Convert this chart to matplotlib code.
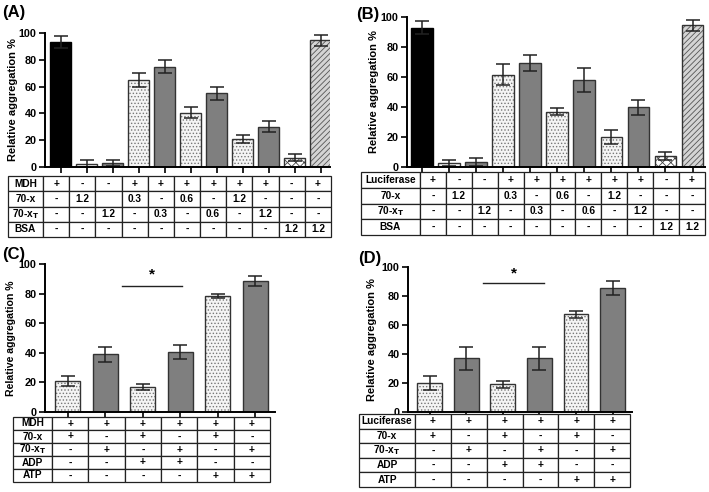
import matplotlib.pyplot as plt
import numpy as np

plt.rcParams['font.family'] = ['Liberation Sans', 'DejaVu Sans']
plt.rcParams['font.weight'] = 'bold'
plt.rcParams['mathtext.default'] = 'bf'
plt.rcParams['hatch.linewidth'] = 0.6

# ---- data ----
a_vals = [93, 2.5, 3, 65, 75, 40.5, 55, 21, 30, 7, 94.5]
a_errs = [4.5, 2.5, 2.5, 5, 5, 4, 5, 3, 4, 2.5, 4]
b_vals = [93, 3, 3.5, 61.5, 69.5, 37, 58, 20, 40, 7.5, 94.5]
b_errs = [4.5, 2, 2.5, 7, 5.5, 2.5, 8, 4.5, 5, 2.5, 3.5]
c_vals = [21, 39, 17, 40.5, 78.5, 88.5]
c_errs = [3.5, 5, 2, 5, 1.5, 3.5]
d_vals = [20, 37, 19, 37, 67.5, 85.5]
d_errs = [4.5, 8, 2.5, 8, 2.5, 5]

ab_styles = ['solid', 'dot', 'gray', 'dot', 'gray', 'dot', 'gray', 'dot', 'gray', 'cross', 'stripe']
cd_styles = ['dot', 'gray', 'dot', 'gray', 'dot', 'gray']

sub_t = '70-x$_\\mathbf{T}$'
ab_rows = ['70-x', sub_t, 'BSA']
ab_cells = [
    ['+', '-', '-', '+', '+', '+', '+', '+', '+', '-', '+'],
    ['-', '1.2', '', '0.3', '-', '0.6', '-', '1.2', '-', '-', '-'],
    ['-', '-', '1.2', '-', '0.3', '-', '0.6', '-', '1.2', '-', '-'],
    ['-', '-', '-', '-', '-', '-', '-', '-', '-', '1.2', '1.2'],
]
cd_rows = ['70-x', sub_t, 'ADP', 'ATP']
cd_cells = [
    ['+', '+', '+', '+', '+', '+'],
    ['+', '-', '+', '-', '+', '-'],
    ['-', '+', '-', '+', '-', '+'],
    ['-', '-', '+', '+', '-', '-'],
    ['-', '-', '-', '-', '+', '+'],
]

W, H = 709, 492
fig = plt.figure(figsize=(W / 100, H / 100), dpi=100)


def px(l, r, top, bot):
    return [l / W, (H - bot) / H, (r - l) / W, (bot - top) / H]


def draw_bars(ax, vals, errs, styles, width, xlim, label_x, label_size=8):
    x = np.arange(len(vals))
    for xi, v, s in zip(x, vals, styles):
        if s == 'solid':
            ax.bar(xi, v, width, color='black', edgecolor='black', lw=1)
            continue
        if s == 'gray':
            ax.bar(xi, v, width, color='#7f7f7f', edgecolor='#333333', lw=1)
            continue
        if s == 'dot':
            ax.bar(xi, v, width, color='#f4f4f4', edgecolor='#777777', hatch='.....', lw=0)
        elif s == 'cross':
            ax.bar(xi, v, width, color='white', edgecolor='#444444', hatch='xxxx', lw=0)
        elif s == 'stripe':
            ax.bar(xi, v, width, color='#d4d4d4', edgecolor='#555555', hatch='//////', lw=0)
        ax.bar(xi, v, width, fill=False, edgecolor='#333333', lw=1)
    ax.errorbar(x, vals, yerr=errs, fmt='none', ecolor='#222222', elinewidth=1.1,
                capsize=5, capthick=1.1)
    ax.set_xlim(*xlim)
    ax.set_ylim(0, 100)
    ax.set_yticks([0, 20, 40, 60, 80, 100])
    ax.set_xticks(x)
    ax.set_xticklabels([])
    for sp in ['top', 'right']:
        ax.spines[sp].set_visible(False)
    for sp in ['left', 'bottom']:
        ax.spines[sp].set_linewidth(1.4)
    ax.tick_params(axis='both', width=1.2, length=4, labelsize=7.8, pad=2)
    ax.set_ylabel('Relative aggregation %', fontsize=label_size, fontweight='bold')
    # right edge of the rotated label, in pixels
    pos = ax.get_position()
    ax.yaxis.set_label_coords((label_x / W - pos.x0) / pos.width, 0.5)


def draw_table(rect, first, rows, cells, label_w):
    tax = fig.add_axes(rect)
    tax.axis('off')
    ncol = len(cells[0])
    text = []
    labels = [first] + rows
    for lab, row in zip(labels, cells):
        text.append([lab] + row)
    rest = (1 - label_w) / ncol
    tb = tax.table(cellText=text, colWidths=[label_w] + [rest] * ncol,
                   bbox=[0, 0, 1, 1], cellLoc='center')
    tb.auto_set_font_size(False)
    tb.set_fontsize(7.3)
    for key, cell in tb.get_celld().items():
        cell.set_linewidth(0.9)
        cell.set_edgecolor('#222222')
        cell.PAD = 0.02
        cell.get_text().set_fontweight('bold')


# (A)
axA = fig.add_axes(px(45, 330, 33, 167))
draw_bars(axA, a_vals, a_errs, ab_styles, 0.8, (-0.6, 10.36), 18)
draw_table(px(8, 331, 176, 237), 'MDH', ab_rows, ab_cells, 35 / 323)

# (B)
axB = fig.add_axes(px(407, 705, 17, 167))
draw_bars(axB, b_vals, b_errs, ab_styles, 0.8, (-0.55, 10.46), 379)
draw_table(px(361, 705, 172, 235), 'Luciferase', ab_rows, ab_cells, 59 / 344)

# (C)
axC = fig.add_axes(px(45, 275, 264, 412))
draw_bars(axC, c_vals, c_errs, cd_styles, 0.67, (-0.6, 5.52), 16, 7.6)
draw_table(px(13, 270, 417, 482), 'MDH', cd_rows, cd_cells, 39 / 257)
axC.plot([1.45, 3.05], [85, 85], color='#222222', lw=1)
axC.text(2.25, 88, '*', ha='center', va='bottom', fontsize=11)

# (D)
axD = fig.add_axes(px(408, 632, 267, 412))
draw_bars(axD, d_vals, d_errs, cd_styles, 0.68, (-0.59, 5.53), 377)
draw_table(px(359, 630, 414, 487), 'Luciferase', cd_rows, cd_cells, 56 / 271)
axD.plot([1.46, 3.13], [89, 89], color='#222222', lw=1)
axD.text(2.3, 91, '*', ha='center', va='bottom', fontsize=11)

for lab, x, y in [('(A)', 2, 12), ('(B)', 356, 14), ('(C)', 2, 254), ('(D)', 358, 259)]:
    fig.text(x / W, 1 - y / H, lab, fontsize=12, fontweight='bold', va='center', ha='left')

fig.savefig('out.png', dpi=100)
